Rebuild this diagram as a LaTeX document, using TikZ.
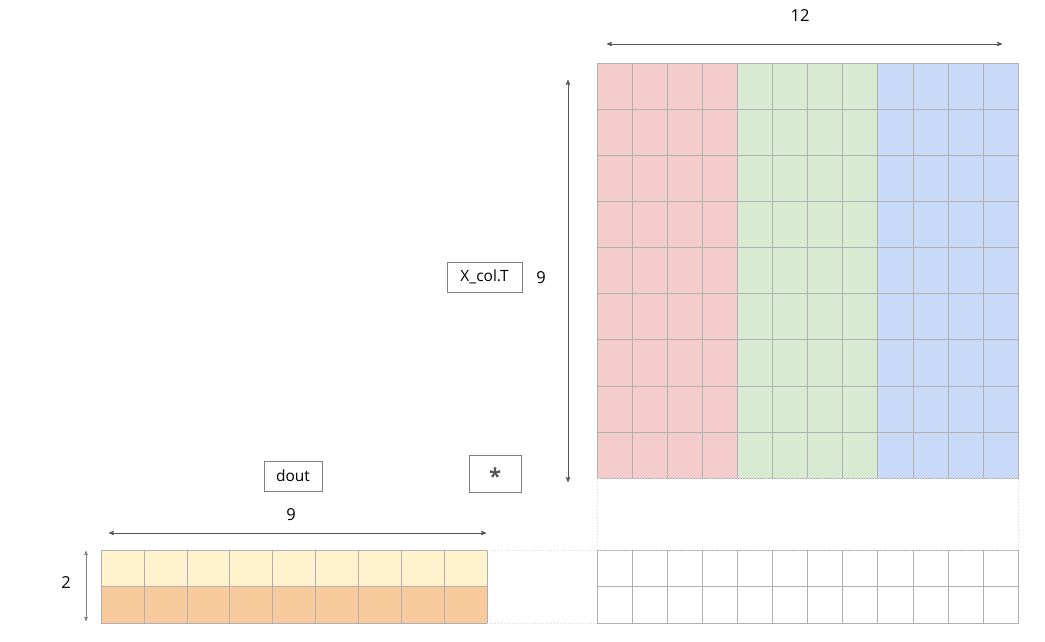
\documentclass[tikz,border=0pt]{standalone}
\usepackage{fontspec}
\setmainfont{Open Sans}
\usetikzlibrary{arrows}

\definecolor{redcell}{HTML}{F4CCCC}
\definecolor{greencell}{HTML}{D9EAD3}
\definecolor{bluecell}{HTML}{C9DAF8}
\definecolor{yellowcell}{HTML}{FFF2CC}
\definecolor{orangecell}{HTML}{F9CB9C}
\definecolor{gridline}{HTML}{B0B0B0}
\definecolor{dimline}{HTML}{555555}

\tikzset{
  cell/.style={rectangle, draw=gridline, inner sep=0pt, outer sep=0pt},
  bigcell/.style={cell, minimum width=35.08pt, minimum height=46.11pt},
  outcell/.style={cell, minimum width=35.08pt, minimum height=36.5pt},
  wcell/.style={cell, minimum width=42.89pt, minimum height=36.5pt},
  label/.style={rectangle, draw=gray, inner sep=0pt, font=\fontsize{15.5}{18}\selectfont},
  dim/.style={<->, draw=dimline, line width=0.8pt},
  dimtext/.style={font=\fontsize{16.5}{19}\selectfont},
  ghost/.style={draw=gray!30, dotted, line width=0.8pt}
}

\begin{document}
\begin{tikzpicture}[x=1pt, y=-1pt, >=stealth']
    \useasboundingbox (0,0) rectangle (1045,641);

    % X_col.T, 9 x 12
    \foreach \blk/\col in {0/redcell,1/greencell,2/bluecell}
      \foreach \k in {1,...,4}
        \foreach \r in {1,...,9} {
          \pgfmathtruncatemacro\c{4*\blk+\k}
          \node[bigcell, fill=\col] (xc-\r-\c)
            at ({597+(\c-0.5)*35.083}, {63+(\r-0.5)*46.111}) {};
        }

    % dout, 2 x 9
    \foreach \r/\col in {1/yellowcell,2/orangecell}
      \foreach \c in {1,...,9}
        \node[wcell, fill=\col] (w-\r-\c)
          at ({101+(\c-0.5)*42.889}, {550+(\r-0.5)*36.5}) {};

    % result, 2 x 12
    \foreach \r in {1,2}
      \foreach \c in {1,...,12}
        \node[outcell, fill=white] (o-\r-\c)
          at ({597+(\c-0.5)*35.083}, {550+(\r-0.5)*36.5}) {};

    % empty gap
    \draw[ghost] (xc-9-1.south west) rectangle (o-1-12.north east);
    \draw[ghost] (w-1-9.north east) -- (o-1-1.north west);
    \draw[ghost] (w-2-9.south east) -- (o-2-1.south west);

    % boxes
    \node[label, minimum width=75pt, minimum height=30pt] (xt) at (484.5,277) {X\_col.T};
    \node[label, minimum width=58pt, minimum height=30pt] (dout) at (293,476) {dout};
    \node[label, minimum width=52pt, minimum height=37pt,
          font=\fontsize{22}{24}\selectfont\bfseries, text=dimline] (mul) at (495,473.5)
          {\raisebox{-6pt}[10pt][0pt]{*}};

    % dimensions
    \coordinate (top-l) at (607,44);
    \coordinate (top-r) at (1002,44);
    \coordinate (side-t) at (568,80);
    \coordinate (side-b) at (568,482);
    \coordinate (low-l) at (109,533);
    \coordinate (low-r) at (486,533);
    \coordinate (row-t) at (86,551);
    \coordinate (row-b) at (86,621);

    \draw[dim] (top-l) -- (top-r);
    \draw[dim] (side-t) -- (side-b);
    \draw[dim] (low-l) -- (low-r);
    \draw[dim, line width=0.6pt, draw=gray] (row-t) -- (row-b);

    \node[dimtext] (n12) at (800,16) {12};
    \node[dimtext] (n9a) at (541,278) {9};
    \node[dimtext] (n9b) at (291,515) {9};
    \node[dimtext] (n2) at (66,583) {2};

\end{tikzpicture}
\end{document}
